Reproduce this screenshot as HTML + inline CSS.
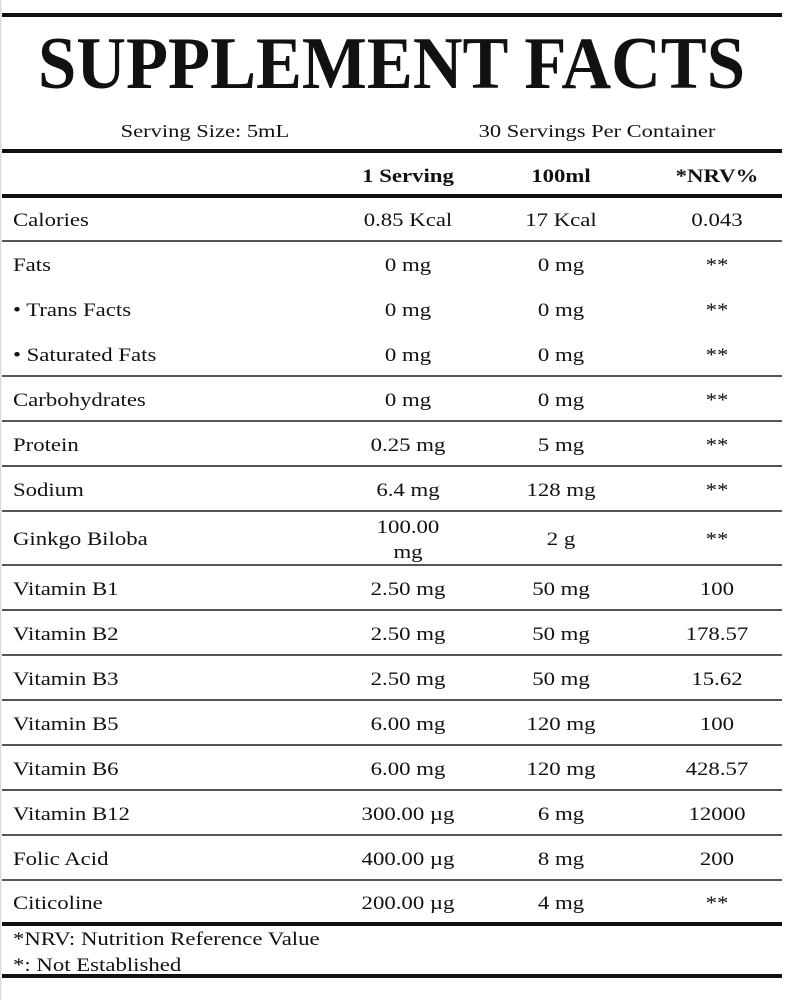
<!DOCTYPE html>
<html><head><meta charset="utf-8"><style>
html,body{margin:0;padding:0;background:#fff;width:792px;height:1000px;overflow:hidden}
svg{display:block}
text{font-family:"Liberation Serif",serif;fill:#111;font-size:19px}
.c{text-anchor:middle}
.b{font-weight:bold}
</style></head><body>
<svg width="792" height="1000" viewBox="0 0 792 1000">
<rect x="0" y="0" width="1.5" height="1000" fill="#ddd"/>
<g fill="#111">
<rect x="2" y="13" width="780" height="4"/>
<rect x="2" y="149" width="780" height="4"/>
<rect x="2" y="194" width="780" height="4"/>
<rect x="2" y="922" width="780" height="4"/>
<rect x="2" y="974" width="780" height="4"/>
</g>
<g fill="#555">
<rect x="2" y="240" width="780" height="2"/>
<rect x="2" y="375" width="780" height="2"/>
<rect x="2" y="420" width="780" height="2"/>
<rect x="2" y="465" width="780" height="2"/>
<rect x="2" y="510" width="780" height="2"/>
<rect x="2" y="564" width="780" height="2"/>
<rect x="2" y="609" width="780" height="2"/>
<rect x="2" y="654" width="780" height="2"/>
<rect x="2" y="699" width="780" height="2"/>
<rect x="2" y="744" width="780" height="2"/>
<rect x="2" y="789" width="780" height="2"/>
<rect x="2" y="834" width="780" height="2"/>
<rect x="2" y="879" width="780" height="2"/>
</g>
<text x="38" y="88" class="b" style="font-size:74px" textLength="707" lengthAdjust="spacingAndGlyphs">SUPPLEMENT FACTS</text>
<g transform="scale(1.25,1)">
<text x="164" y="137" class="c" style="font-size:18px">Serving Size: 5mL</text>
<text x="477.6" y="137" class="c" style="font-size:18px">30 Servings Per Container</text>
</g>
<g transform="scale(1.2,1)">
<text x="340" y="182" class="c b">1 Serving</text>
<text x="467.5" y="182" class="c b">100ml</text>
<text x="597.5" y="182" class="c b">*NRV%</text>
<text x="10.8" y="226">Calories</text><text x="340" y="226" class="c">0.85 Kcal</text><text x="467.5" y="226" class="c">17 Kcal</text><text x="597.5" y="226" class="c">0.043</text>
<text x="10.8" y="271">Fats</text><text x="340" y="271" class="c">0 mg</text><text x="467.5" y="271" class="c">0 mg</text><text x="597.5" y="271" class="c">**</text>
<text x="10.8" y="316">• Trans Facts</text><text x="340" y="316" class="c">0 mg</text><text x="467.5" y="316" class="c">0 mg</text><text x="597.5" y="316" class="c">**</text>
<text x="10.8" y="361">• Saturated Fats</text><text x="340" y="361" class="c">0 mg</text><text x="467.5" y="361" class="c">0 mg</text><text x="597.5" y="361" class="c">**</text>
<text x="10.8" y="406">Carbohydrates</text><text x="340" y="406" class="c">0 mg</text><text x="467.5" y="406" class="c">0 mg</text><text x="597.5" y="406" class="c">**</text>
<text x="10.8" y="451">Protein</text><text x="340" y="451" class="c">0.25 mg</text><text x="467.5" y="451" class="c">5 mg</text><text x="597.5" y="451" class="c">**</text>
<text x="10.8" y="496">Sodium</text><text x="340" y="496" class="c">6.4 mg</text><text x="467.5" y="496" class="c">128 mg</text><text x="597.5" y="496" class="c">**</text>
<text x="10.8" y="545">Ginkgo Biloba</text><text x="340" y="533" class="c">100.00</text><text x="340" y="558" class="c">mg</text><text x="467.5" y="545" class="c">2 g</text><text x="597.5" y="545" class="c">**</text>
<text x="10.8" y="595">Vitamin B1</text><text x="340" y="595" class="c">2.50 mg</text><text x="467.5" y="595" class="c">50 mg</text><text x="597.5" y="595" class="c">100</text>
<text x="10.8" y="640">Vitamin B2</text><text x="340" y="640" class="c">2.50 mg</text><text x="467.5" y="640" class="c">50 mg</text><text x="597.5" y="640" class="c">178.57</text>
<text x="10.8" y="685">Vitamin B3</text><text x="340" y="685" class="c">2.50 mg</text><text x="467.5" y="685" class="c">50 mg</text><text x="597.5" y="685" class="c">15.62</text>
<text x="10.8" y="730">Vitamin B5</text><text x="340" y="730" class="c">6.00 mg</text><text x="467.5" y="730" class="c">120 mg</text><text x="597.5" y="730" class="c">100</text>
<text x="10.8" y="775">Vitamin B6</text><text x="340" y="775" class="c">6.00 mg</text><text x="467.5" y="775" class="c">120 mg</text><text x="597.5" y="775" class="c">428.57</text>
<text x="10.8" y="820">Vitamin B12</text><text x="340" y="820" class="c">300.00 µg</text><text x="467.5" y="820" class="c">6 mg</text><text x="597.5" y="820" class="c">12000</text>
<text x="10.8" y="865">Folic Acid</text><text x="340" y="865" class="c">400.00 µg</text><text x="467.5" y="865" class="c">8 mg</text><text x="597.5" y="865" class="c">200</text>
<text x="10.8" y="909">Citicoline</text><text x="340" y="909" class="c">200.00 µg</text><text x="467.5" y="909" class="c">4 mg</text><text x="597.5" y="909" class="c">**</text>
<text x="10.8" y="945">*NRV: Nutrition Reference Value</text>
<text x="10.8" y="971">*: Not Established</text>
</g>
</svg>
</body></html>
